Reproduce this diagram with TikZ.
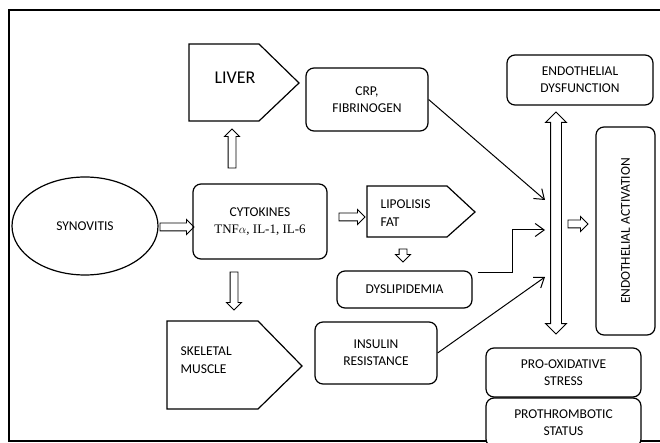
\documentclass[tikz,border=0pt]{standalone}
\usepackage{fontspec}
\setmainfont{Carlito}
\newfontfamily\serifpart{Liberation Serif}
\usetikzlibrary{positioning,calc,arrows.meta,shapes.arrows,shapes.geometric}

\begin{document}
\begin{tikzpicture}[x=1pt,y=-1pt,line width=1.2pt,
  rbox/.style={draw, rounded corners=8pt, fill=white, align=center, inner sep=0pt, font=\fontsize{13.5}{17}\selectfont},
  txt/.style={align=left, inner sep=0pt, font=\fontsize{13.5}{17.5}\selectfont},
  harrow/.style={draw, single arrow, inner sep=3.5pt, line width=0.9pt, minimum width=14pt, single arrow head extend=3.5pt, single arrow head indent=0pt},
  conn/.style={-{Straight Barb[length=9pt,width=13pt]}, line width=1pt}]
\clip (0,0) rectangle (660,443);
% frame
\draw (9,10) rectangle (680,441);

% left part
\node[draw, ellipse, minimum width=146pt, minimum height=98pt, font=\fontsize{13.5}{17}\selectfont] (syn) at (85,226) {SYNOVITIS};
\node[rbox, minimum width=134pt, minimum height=75pt] (cyto) at (260,221.5) {CYTOKINES\\{\serifpart\fontsize{13}{17}\selectfont TNF$\alpha$, IL-1, IL-6}};

% liver, muscle, fat
\draw (189,44) -- (259,44) -- (299,83) -- (259,121) -- (189,121) -- cycle;
\node[font=\fontsize{18}{20}\selectfont] (liver) at (235,78) {LIVER};
\draw (167,321) -- (258,321) -- (302,366) -- (258,409) -- (167,409) -- cycle;
\node[txt, anchor=west] (skel) at (180,360) {SKELETAL\\MUSCLE};
\draw (367,186) -- (447,186) -- (475,212) -- (447,237) -- (367,237) -- cycle;
\node[txt, anchor=west] (lipo) at (380,213) {LIPOLISIS\\FAT};

% middle boxes
\node[rbox, minimum width=122pt, minimum height=63pt] (crp) at (367,99.5) {CRP,\\FIBRINOGEN};
\node[rbox, minimum width=135pt, minimum height=37pt] (dysl) at (404.5,289.5) {DYSLIPIDEMIA};
\node[rbox, minimum width=122pt, minimum height=62pt] (insul) at (376,353) {INSULIN\\RESISTANCE};

% right boxes
\node[rbox, minimum width=146pt, minimum height=50pt] (edys) at (580,80) {ENDOTHELIAL\\DYSFUNCTION};
\node[rbox, minimum width=59pt, minimum height=208pt] (eact) at (625.5,231) {};
\node[rotate=90, font=\fontsize{13.5}{17}\selectfont] (eacttxt) at (eact) {ENDOTHELIAL ACTIVATION};
\node[rbox, minimum width=155pt, minimum height=49pt] (prox) at (563.5,372.5) {PRO-OXIDATIVE\\STRESS};
\node[rbox, minimum width=155pt, minimum height=49pt] (proth) at (563.5,422.5) {PROTHROMBOTIC\\STATUS};

% block arrows
\node[harrow, minimum height=34pt] (a1) at (175,227) {};
\node[harrow, minimum height=39pt, shape border rotate=90] (a2) at (232,150.5) {};
\node[harrow, minimum height=38pt, shape border rotate=270] (a3) at (234,289) {};
\node[harrow, minimum height=26pt] (a4) at (350,217) {};
\node[harrow, minimum height=13pt, shape border rotate=270] (a5) at (403,253.5) {};
\node[harrow, minimum height=20pt] (a6) at (576,224) {};
\node[draw, double arrow, inner sep=5pt, line width=0.9pt, minimum width=20pt, minimum height=222pt, double arrow head extend=5pt, double arrow head indent=0pt, shape border rotate=90] (bar) at (556,223) {};

% connectors
\coordinate (in1) at (545,200);
\coordinate (in2) at (545,230);
\coordinate (in3) at (545,277);
\draw[conn] (crp.east) -- (in1);
\draw[conn] ($(dysl.north east)+(5,2)$) -- ++(35,0) |- (in2);
\draw[conn] (insul.east) -- (in3);
\end{tikzpicture}
\end{document}
